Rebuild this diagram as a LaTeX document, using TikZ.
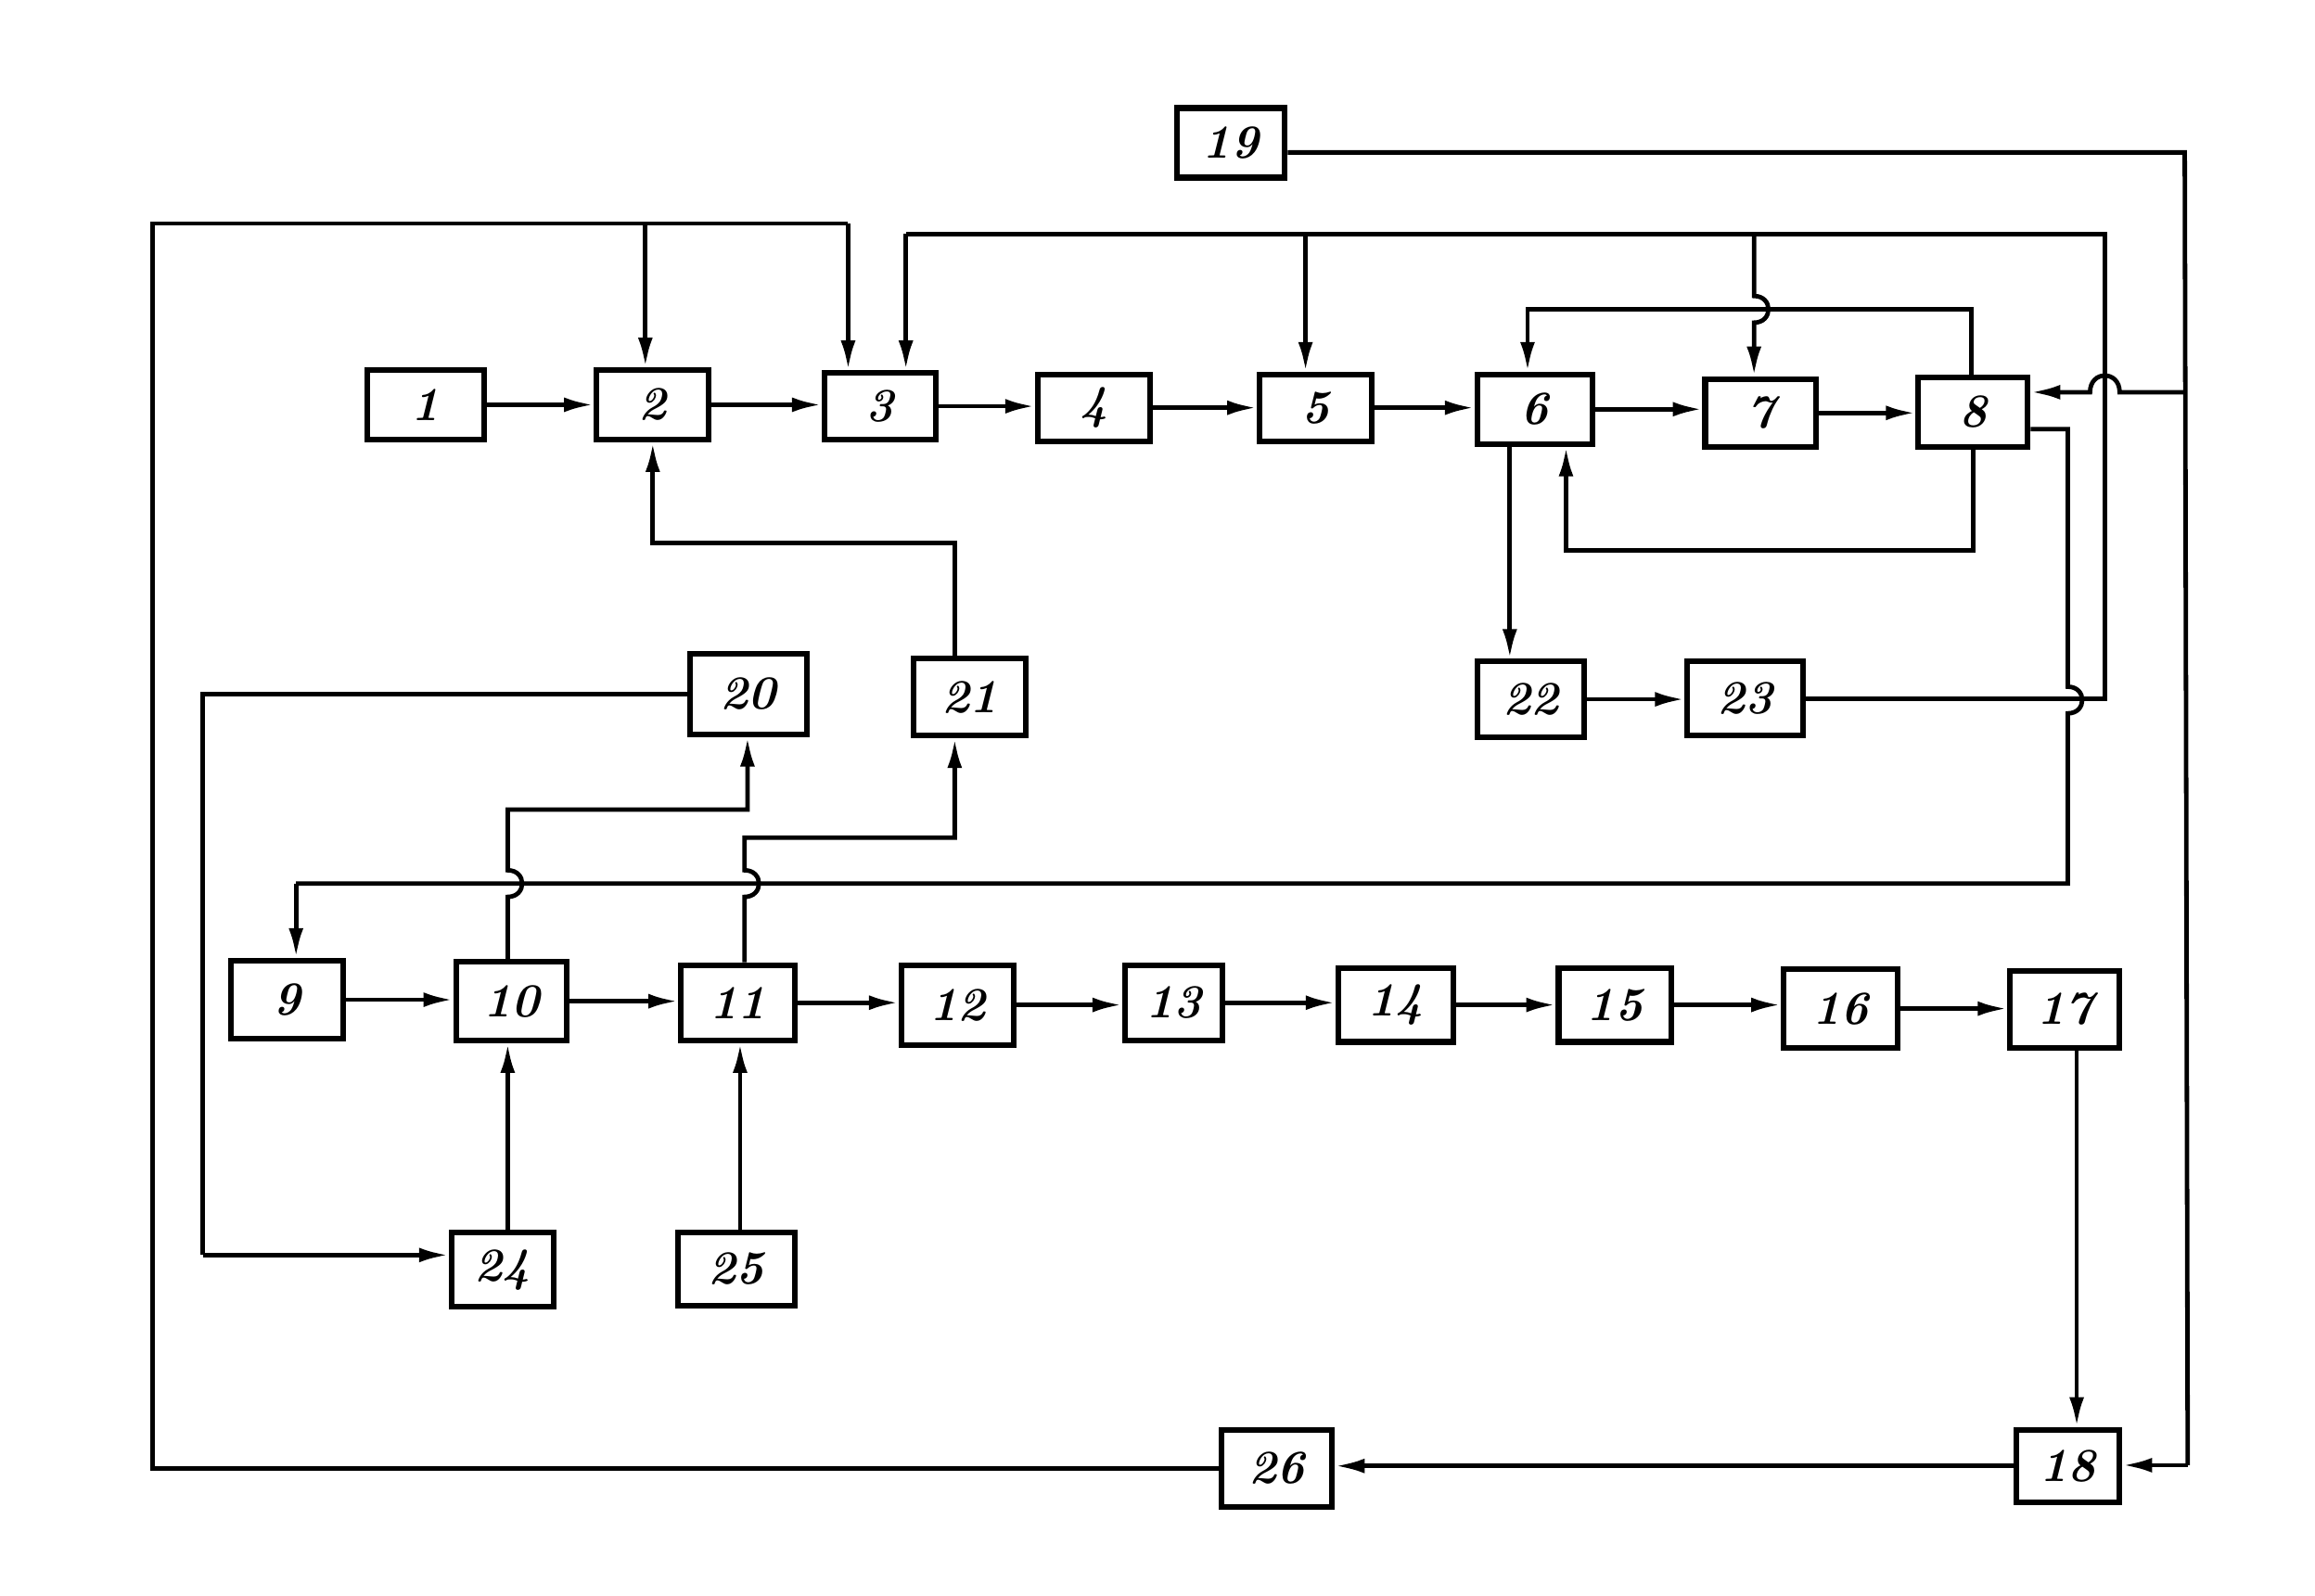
\documentclass[tikz,border=0pt]{standalone}
\usetikzlibrary{arrows.meta}
\begin{document}
\begin{tikzpicture}[x=1pt,y=-1pt,
  blk/.style={draw,line width=3.8pt,inner sep=0pt,font=\fontsize{32}{32}\selectfont\bfseries\itshape},
  ln/.style={line width=3pt,line join=miter},
  arr/.style={ln,-{Latex[length=20pt,width=10pt]}}]
\useasboundingbox (0,0) rectangle (1564,1078);
% boxes
\node[blk,minimum width=73pt,minimum height=47pt] (n19) at (831.5,96.5) {19};
\node[blk,minimum width=79pt,minimum height=47pt] (n1) at (287.5,273.5) {1};
\node[blk,minimum width=76pt,minimum height=47pt] (n2) at (441,273.5) {2};
\node[blk,minimum width=75pt,minimum height=45pt] (n3) at (594.5,274.5) {3};
\node[blk,minimum width=76pt,minimum height=45pt] (n4) at (739,275.5) {4};
\node[blk,minimum width=76pt,minimum height=45pt] (n5) at (889,275.5) {5};
\node[blk,minimum width=78pt,minimum height=47pt] (n6) at (1037,276.5) {6};
\node[blk,minimum width=75pt,minimum height=46pt] (n7) at (1189.5,279) {7};
\node[blk,minimum width=74pt,minimum height=47pt] (n8) at (1333,278.5) {8};
\node[blk,minimum width=79pt,minimum height=54pt] (n20) at (505.5,469) {20};
\node[blk,minimum width=76pt,minimum height=52pt] (n21) at (655,471) {21};
\node[blk,minimum width=72pt,minimum height=51pt] (n22) at (1034,472.5) {22};
\node[blk,minimum width=78pt,minimum height=50pt] (n23) at (1179,472) {23};
\node[blk,minimum width=76pt,minimum height=53pt] (n9) at (194,675.5) {9};
\node[blk,minimum width=75pt,minimum height=53pt] (n10) at (345.5,676.5) {10};
\node[blk,minimum width=77pt,minimum height=51pt] (n11) at (498.5,677.5) {11};
\node[blk,minimum width=76pt,minimum height=54pt] (n12) at (647,679) {12};
\node[blk,minimum width=66pt,minimum height=51pt] (n13) at (793,677.5) {13};
\node[blk,minimum width=78pt,minimum height=50pt] (n14) at (943,679) {14};
\node[blk,minimum width=76pt,minimum height=50pt] (n15) at (1091,679) {15};
\node[blk,minimum width=77pt,minimum height=53pt] (n16) at (1243.5,681.5) {16};
\node[blk,minimum width=74pt,minimum height=52pt] (n17) at (1395,682) {17};
\node[blk,minimum width=69pt,minimum height=50pt] (n24) at (339.5,858) {24};
\node[blk,minimum width=79pt,minimum height=49pt] (n25) at (497.5,857.5) {25};
\node[blk,minimum width=75pt,minimum height=52pt] (n26) at (862.5,992) {26};
\node[blk,minimum width=70pt,minimum height=49pt] (n18) at (1397,990.5) {18};
% main chain top row
\foreach \a/\b in {1/2,2/3,3/4,4/5,5/6,6/7,7/8}
  \draw[arr] (n\a.east) -- (n\a.east -| n\b.west);
% chain bottom row
\foreach \a/\b in {9/10,10/11,11/12,12/13,13/14,14/15,15/16,16/17}
  \draw[arr] (n\a.east) -- (n\a.east -| n\b.west);
% outer loop from 26
\draw[ln] (n26.west) -- (103,992) -- (103,151) -- (573,151);
\draw[arr] (573,151) -- (573,151 |- n3.north);
\draw[arr] (436,151) -- (436,151 |- n2.north);
% loop from 23
\draw[ln] (n23.east) -- (1422,472) -- (1422,158) -- (612,158);
\draw[arr] (612,158) -- (612,158 |- n3.north);
\draw[arr] (882,158) -- (882,158 |- n5.north);
\draw[arr] (1185,158) -- (1185,200) .. controls (1198,200) and (1198,218) .. (1185,218) -- (1185,0 |- n7.north);
% 6-8 loops
\draw[arr] (1332,0 |- n8.north) -- (1332,209) -- (1032,209) -- (1032,0 |- n6.north);
\draw[arr] (1333,0 |- n8.south) -- (1333,372) -- (1058,372) -- (1058,0 |- n6.south);
\draw[arr] (1020,0 |- n6.south) -- (1020,0 |- n22.north);
\draw[arr] (n22.east) -- (n22.east -| n23.west);
% 19 line
\draw[ln] (n19.east |- 0,103) -- (1476,103) -- (1478,990);
\draw[arr] (1478,990) -- (1478,990 -| n18.east);
\draw[arr] (1476,265) -- (1432,265) .. controls (1432,250) and (1412,250) .. (1412,265) -- (1412,265 -| n8.east);
% 8 lower output to 9
\draw[ln] (n8.east |- 0,290) -- (1397,290) -- (1397,464) .. controls (1410,464) and (1410,482) .. (1397,482) -- (1397,597) -- (200,597);
\draw[arr] (200,597) -- (200,0 |- n9.north);
% 10 -> 20
\draw[arr] (343,0 |- n10.north) -- (343,606) .. controls (356,606) and (356,588) .. (343,588) -- (343,547) -- (505,547) -- (505,0 |- n20.south);
% 11 -> 21
\draw[arr] (503,0 |- n11.north) -- (503,606) .. controls (516,606) and (516,588) .. (503,588) -- (503,566) -- (645,566) -- (645,0 |- n21.south);
% 21 -> 2
\draw[arr] (645,0 |- n21.north) -- (645,367) -- (441,367) -- (n2.south);
% 20 -> 24
\draw[ln] (n20.west) -- (137,469) -- (137,848);
\draw[arr] (137,848) -- (137,848 -| n24.west);
% 24 -> 10, 25 -> 11
\draw[arr] (343,0 |- n24.north) -- (343,0 |- n10.south);
\draw[arr] (500,0 |- n25.north) -- (500,0 |- n11.south);
% 17 -> 18, 18 -> 26
\draw[arr] (1403,0 |- n17.south) -- (1403,0 |- n18.north);
\draw[arr] (n18.west) -- (n18.west -| n26.east);
\end{tikzpicture}
\end{document}
